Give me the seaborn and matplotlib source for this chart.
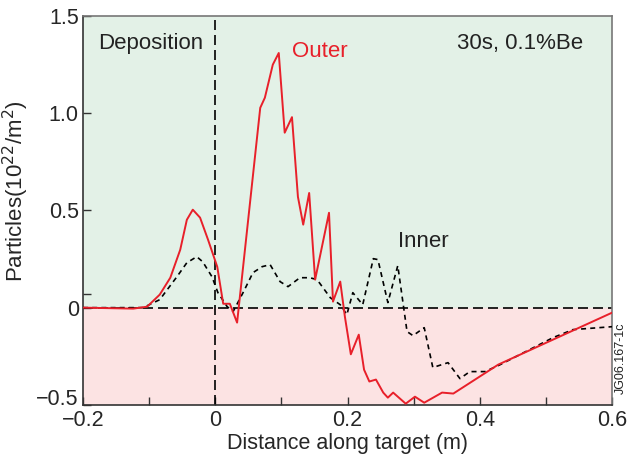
import matplotlib
matplotlib.use("Agg")
import matplotlib.pyplot as plt
import matplotlib.transforms as mtransforms
import seaborn as sns
import pandas as pd
import numpy as np

# Outer (red solid)
outer_x = [-0.2, -0.124, -0.103, -0.084, -0.068, -0.053, -0.043, -0.034, -0.023, -0.011,
           0.003, 0.012, 0.022, 0.033, 0.068, 0.075, 0.087, 0.096, 0.105, 0.116,
           0.125, 0.133, 0.142, 0.151, 0.172, 0.178, 0.189, 0.196, 0.205, 0.217,
           0.225, 0.233, 0.243, 0.254, 0.261, 0.269, 0.288, 0.302, 0.316, 0.343,
           0.360, 0.428, 0.6]
outer_y = [0.0, -0.005, 0.005, 0.067, 0.154, 0.298, 0.452, 0.504, 0.463, 0.35,
           0.21, 0.02, 0.02, -0.077, 1.028, 1.08, 1.25, 1.31, 0.90, 0.98,
           0.57, 0.427, 0.59, 0.144, 0.488, 0.031, 0.134, -0.046, -0.24, -0.139,
           -0.319, -0.38, -0.37, -0.437, -0.463, -0.437, -0.494, -0.458, -0.489, -0.437,
           -0.442, -0.293, -0.026]

# Inner (black dotted)
inner_x = [-0.2, -0.109, -0.084, -0.058, -0.043, -0.028, -0.019, -0.005, 0.004, 0.018,
           0.027, 0.042, 0.057, 0.071, 0.083, 0.098, 0.110, 0.128, 0.143, 0.154,
           0.174, 0.189, 0.199, 0.208, 0.223, 0.239, 0.246, 0.261, 0.276, 0.290,
           0.299, 0.316, 0.329, 0.352, 0.370, 0.385, 0.408, 0.431, 0.511, 0.541, 0.6]
inner_y = [0.0, 0.0, 0.041, 0.159, 0.231, 0.262, 0.236, 0.159, 0.077, 0.005,
           -0.02, 0.077, 0.180, 0.211, 0.221, 0.134, 0.108, 0.154, 0.154, 0.144,
           0.051, 0.015, -0.036, 0.077, 0.015, 0.252, 0.247, 0.026, 0.216, -0.123,
           -0.144, -0.103, -0.308, -0.283, -0.365, -0.329, -0.329, -0.293, -0.154, -0.113, -0.098]

x_ticks = [-0.2, 0, 0.2, 0.4, 0.6]
x_tick_labels = ["\u22120.2", "0", "0.2", "0.4", "0.6"]
y_ticks = [-0.5, 0, 0.5, 1.0, 1.5]
y_tick_labels = ["\u22120.5", "0", "0.5", "1.0", "1.5"]

sns.set_style("ticks")
plt.rcParams['font.family'] = ['Liberation Sans', 'DejaVu Sans']

fig = plt.figure(figsize=(6.29, 4.59), dpi=100)
ax = fig.add_axes([0.132, 0.118, 0.841, 0.847])

ax.set_xlim(-0.2, 0.6)
ax.set_ylim(-0.5, 1.5)
ax.axhspan(0, 1.5, color="#e3f1e7", zorder=0)
ax.axhspan(-0.5, 0, color="#fce3e3", zorder=0)

ax.axhline(0, color="black", lw=1.2, ls=(0, (6, 3)), zorder=2)
ax.axvline(0, color="black", lw=1.2, ls=(0, (6, 3)), zorder=2)

df_outer = pd.DataFrame({"x": outer_x, "y": outer_y})
df_inner = pd.DataFrame({"x": inner_x, "y": inner_y})
sns.lineplot(data=df_inner, x="x", y="y", ax=ax, color="black", lw=1.2,
             linestyle=(0, (3, 2.5)), sort=False, estimator=None, zorder=3)
sns.lineplot(data=df_outer, x="x", y="y", ax=ax, color="#e8202a", lw=1.4,
             sort=False, estimator=None, zorder=4)

ax.set_xticks(x_ticks)
ax.set_xticklabels(x_tick_labels)
ax.set_xticks(np.arange(-0.1, 0.6, 0.2), minor=True)
ax.set_yticks(y_ticks)
ax.set_yticklabels(y_tick_labels)
ax.set_yticks([0.07], minor=True)
ax.tick_params(axis="both", which="both", direction="in", length=6, width=1,
               color="#333333", labelsize=15.5, pad=3)
ax.tick_params(axis="x", which="major", pad=4)

# shift the lowest y label up a little, as in the reference
lbl = ax.get_yticklabels()[0]
lbl.set_transform(lbl.get_transform() + mtransforms.ScaledTranslation(0, 6/72, fig.dpi_scale_trans))

for s in ["left", "bottom"]:
    ax.spines[s].set_color("#333333")
for s in ["top", "right"]:
    ax.spines[s].set_color("#777777")
for s in ax.spines.values():
    s.set_linewidth(1.2)

ax.set_xlabel("Distance along target (m)", fontsize=15.5, labelpad=1)
ax.set_ylabel("Particles(10$^{22}$/m$^{2}$)", fontsize=16)
ax.yaxis.set_label_coords(-0.098, 0.55)

ax.text(-0.177, 1.36, "Deposition", fontsize=16, color="#222222", va="center", ha="left")
ax.text(0.116, 1.32, "Outer", fontsize=16, color="#e8202a", va="center", ha="left")
ax.text(0.557, 1.36, "30s, 0.1%Be", fontsize=16, color="#222222", va="center", ha="right")
ax.text(0.276, 0.34, "Inner", fontsize=16, color="#222222", va="center", ha="left")
fig.text(0.987, 0.22, "JG06.167-1c", fontsize=9, rotation=90, ha="center", va="center",
         color="#222222")

fig.savefig("out.png", dpi=100)
